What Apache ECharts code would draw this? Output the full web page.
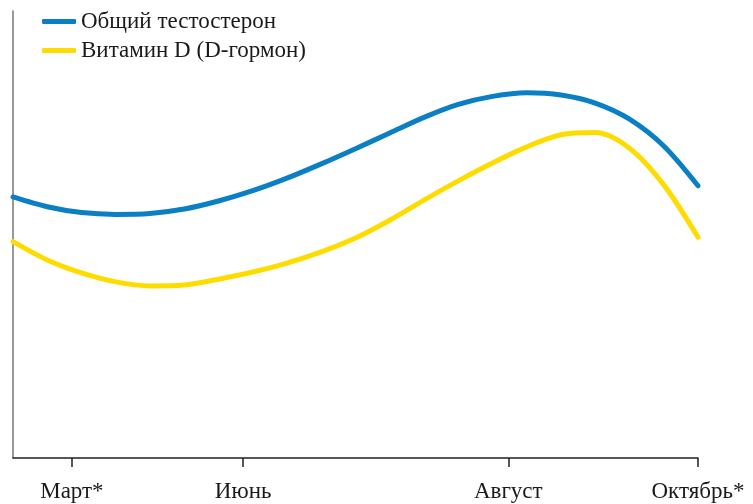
<!DOCTYPE html>
<html>
<head>
<meta charset="utf-8">
<script src="https://cdn.jsdelivr.net/npm/echarts@6/dist/echarts.min.js"></script>
<style>html,body{margin:0;padding:0;background:#fff}#c{width:753px;height:504px}</style>
</head>
<body>
<div id="c"></div>
<script>
var seriesNames = ['Общий тестостерон', 'Витамин D (D-гормон)'];
var tickPositions = [8.6, 33.6, 72.3, 100];
var tickLabels = ['Март*', 'Июнь', 'Август', 'Октябрь*'];
var sampleX = [0, 5, 10, 15, 20, 25, 30, 35, 40, 45, 50, 55, 60, 65, 70, 75, 80, 85, 90, 95, 100];
var testosteroneY = [58.4, 56.2, 54.9, 54.5, 54.7, 55.7, 57.5, 59.8, 62.6, 65.8, 69.2, 72.7, 76.2, 79.1, 80.9, 81.7, 81.2, 79.4, 75.8, 69.8, 60.9];
var vitaminY = [48.4, 44.3, 41.4, 39.4, 38.5, 38.7, 40.0, 41.6, 43.6, 46.1, 49.2, 53.2, 57.7, 62.0, 66.0, 69.6, 72.3, 72.8, 69.3, 61.1, 49.4];

function pairs(xs, ys) { return xs.map(function (x, i) { return [x, ys[i]]; }); }

var FONT = '"Liberation Serif", "DejaVu Serif", serif';
var chart = echarts.init(document.getElementById('c'));
chart.setOption({
  animation: false,
  grid: { left: 13, right: 55, top: 11, bottom: 46, containLabel: false },
  legend: {
    orient: 'vertical', left: 37, top: 5, itemGap: 6,
    icon: 'roundRect', itemWidth: 34, itemHeight: 5,
    textStyle: { fontFamily: FONT, fontSize: 23, color: '#1a1a1a', padding: [0, 0, 0, 0] },
    data: seriesNames
  },
  xAxis: {
    type: 'value', min: 0, max: 100,
    splitLine: { show: false },
    axisLine: { lineStyle: { color: '#222', width: 1.5 } },
    axisTick: { show: true, length: 9, customValues: tickPositions, lineStyle: { color: '#222', width: 1.5 } },
    axisLabel: {
      customValues: tickPositions, margin: 22,
      fontFamily: FONT, fontSize: 23, color: '#1a1a1a',
      formatter: function (v) {
        var i = tickPositions.indexOf(v);
        return i >= 0 ? tickLabels[i] : '';
      }
    }
  },
  yAxis: {
    type: 'value', min: 0, max: 100,
    splitLine: { show: false },
    axisLine: { show: true, lineStyle: { color: '#777', width: 1.5 } },
    axisTick: { show: false },
    axisLabel: { show: false }
  },
  series: [
    {
      name: seriesNames[0], type: 'line', smooth: 0.3, symbol: 'none', clip: false,
      data: pairs(sampleX, testosteroneY),
      itemStyle: { color: '#0a7fc4' },
      lineStyle: { color: '#0a7fc4', width: 5, cap: 'round' }
    },
    {
      name: seriesNames[1], type: 'line', smooth: 0.3, symbol: 'none', clip: false,
      data: pairs(sampleX, vitaminY),
      itemStyle: { color: '#ffdc00' },
      lineStyle: { color: '#ffdc00', width: 5, cap: 'round' }
    }
  ]
});
</script>
</body>
</html>
